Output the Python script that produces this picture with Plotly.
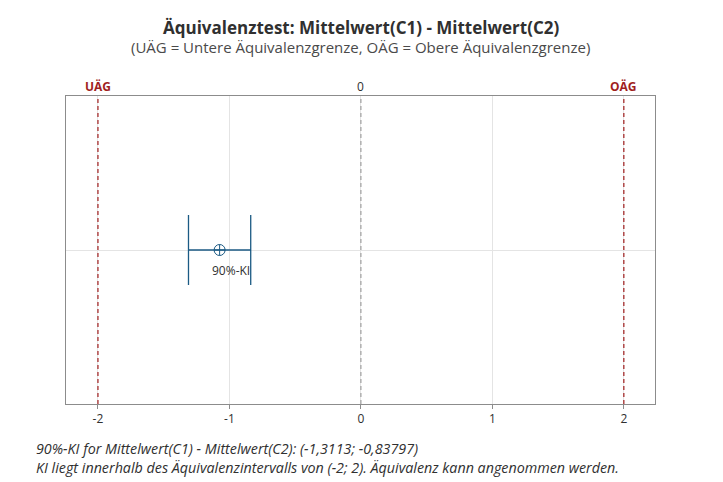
import plotly.graph_objects as go

# Data
estimate = [-1.07464]
ci_lower = -1.3113
ci_upper = -0.83797
eq_lower = -2
eq_upper = 2
y_pos = [1]
x_ticks = [-2, -1, 0, 1, 2]
top_ticks = [-2, 0, 2]
top_labels = ["UÄG", "0", "OÄG"]

FONT = "Open Sans"
BLUE = "#1B5A84"
RED = "#A01E1E"
TXT = "#303030"

fig = go.Figure()

fig.add_trace(go.Scatter(
    x=estimate, y=y_pos, mode="markers",
    marker=dict(symbol="circle-cross-open", size=11, color=BLUE, line=dict(width=1, color=BLUE)),
    error_x=dict(type="data", symmetric=False,
                 array=[ci_upper - estimate[0]], arrayminus=[estimate[0] - ci_lower],
                 color=BLUE, thickness=1.3, width=35),
    showlegend=False, hoverinfo="skip",
))

for xv, col in [(eq_lower, RED), (eq_upper, RED), (0, "#a0a0a0")]:
    fig.add_shape(type="line", x0=xv, x1=xv, y0=0, y1=1, xref="x", yref="paper",
                  line=dict(color=col, width=1.2, dash="4px,3px"))

# top reference labels
for v, lab in zip(top_ticks, top_labels):
    fig.add_annotation(x=v, y=1, xref="x", yref="paper", yanchor="bottom", yshift=-1,
                       text=lab if v == 0 else f"<b>{lab}</b>", showarrow=False,
                       font=dict(family=FONT, size=12, color=TXT if v == 0 else RED))

fig.add_annotation(x=estimate[0], y=y_pos[0], xref="x", yref="y", text="90%-KI",
                   showarrow=False, yshift=-20, xshift=11,
                   font=dict(family=FONT, size=12, color=TXT))

fig.update_layout(
    width=723, height=482,
    margin=dict(l=66, r=68, t=96, b=78),
    paper_bgcolor="white", plot_bgcolor="white",
    font=dict(family=FONT, size=12, color=TXT),
    xaxis=dict(range=[-2.243, 2.237], tickvals=x_ticks, ticktext=[str(t) for t in x_ticks],
               showgrid=True, gridcolor="#e4e4e4", gridwidth=1, zeroline=False,
               showline=True, linecolor="#8c8c8c", linewidth=1, mirror=True,
               ticks="outside", ticklen=4, tickcolor="#8c8c8c",
               tickfont=dict(family=FONT, size=12, color=TXT)),
    yaxis=dict(range=[0, 2], showticklabels=False, tickvals=[1], showgrid=True,
               gridcolor="#e4e4e4", zeroline=False, showline=True, linecolor="#8c8c8c",
               mirror=True, ticks=""),
)

# Title and subtitle
fig.add_annotation(x=0.5, y=1, xref="paper", yref="paper", xanchor="center", yanchor="middle",
                   yshift=96 - 27, text="<b>Äquivalenztest: Mittelwert(C1) - Mittelwert(C2)</b>",
                   showarrow=False, font=dict(family=FONT, size=17, color=TXT))
fig.add_annotation(x=0.5, y=1, xref="paper", yref="paper", xanchor="center", yanchor="middle",
                   yshift=96 - 47, text="(UÄG = Untere Äquivalenzgrenze, OÄG = Obere Äquivalenzgrenze)",
                   showarrow=False, font=dict(family=FONT, size=15, color="#4a4a4a"))

# Footer
fig.add_annotation(x=0, y=0, xref="paper", yref="paper", xanchor="left", yanchor="middle",
                   xshift=34 - 66, yshift=-(448 - 404),
                   text="<i>90%-KI for Mittelwert(C1) - Mittelwert(C2): (-1,3113; -0,83797)</i>",
                   showarrow=False, font=dict(family=FONT, size=14.3, color=TXT))
fig.add_annotation(x=0, y=0, xref="paper", yref="paper", xanchor="left", yanchor="middle",
                   xshift=34 - 66, yshift=-(467 - 404),
                   text="<i>KI liegt innerhalb des Äquivalenzintervalls von (-2; 2). Äquivalenz kann angenommen werden.</i>",
                   showarrow=False, font=dict(family=FONT, size=14.3, color=TXT))

fig.write_html("out.html", config={"displayModeBar": False},
               post_script="document.body.style.margin='0';")
